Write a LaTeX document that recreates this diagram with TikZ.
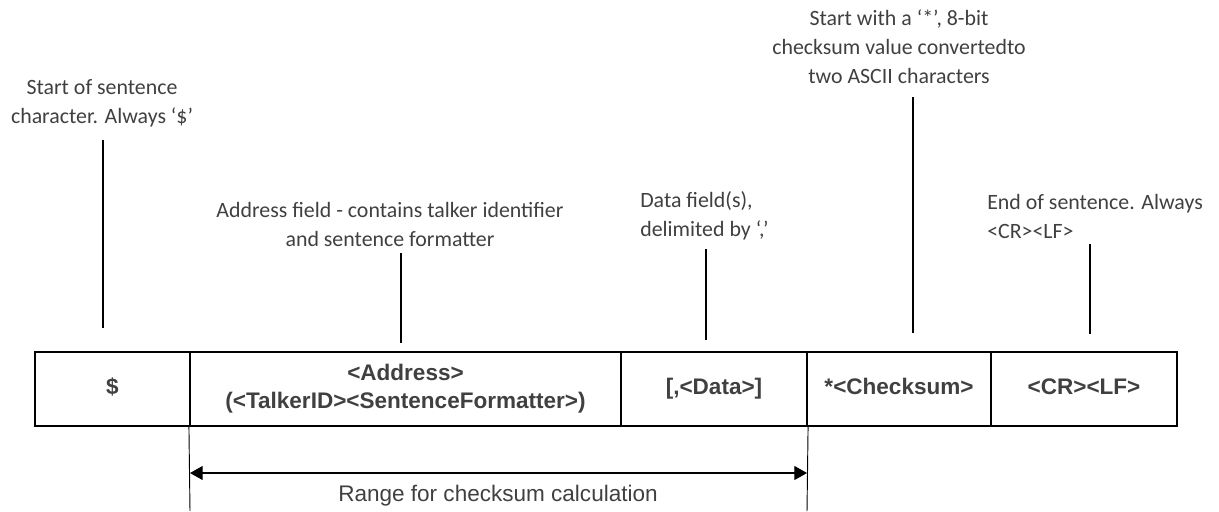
\documentclass[tikz,border=0pt]{standalone}
\usepackage{fontspec}
\setmainfont{Carlito}
\newfontfamily\notefont{Carlito}
\newfontfamily\boxfont{Liberation Sans}
\usetikzlibrary{arrows.meta}
\definecolor{txt}{HTML}{404040}
\tikzset{
  note/.style={inner sep=0pt, text=txt, font=\notefont\fontsize{16.4}{21.75}\selectfont},
  leader/.style={draw=black, line width=1.1pt},
  cell/.style={draw=black, line width=1.6pt, inner sep=0pt, minimum height=55.5pt, text=txt,
    align=center, text height=12pt, text depth=3.5pt, font=\boxfont\bfseries\fontsize{16.9}{21}\selectfont},
  guide/.style={draw=black, line width=0.7pt},
  rangearrow/.style={line width=0.8pt, {Triangle[length=9.5pt,width=10.5pt]}-{Triangle[length=9.5pt,width=10.5pt]}},
  rangelabel/.style={inner sep=0pt, text=txt, font=\boxfont\fontsize{16.9}{21}\selectfont}
}
\begin{document}
\begin{tikzpicture}[x=0.75pt,y=-0.75pt]
\useasboundingbox (0,0) rectangle (1219,511);
% cells
\node[cell, minimum width=116.25pt] (c1) at (112.5,389) {\$};
\node[cell, minimum width=323.25pt, text height={}, text depth={}] (c2) at (405.5,389) {<Address>\\(<TalkerID><SentenceFormatter>)};
\node[cell, minimum width=139.5pt] (c3) at (714,389) {[,<Data>]};
\node[cell, minimum width=138pt] (c4) at (899,389) {*<Checksum>};
\node[cell, minimum width=139.5pt] (c5) at (1084,389) {<CR><LF>};
% annotations
\node[note, align=center] (n1) at (102,103) {Start of sentence\\character. Always ‘\$’};
\node[note, align=center] (n2) at (390,224) {Address field - contains talker identifier\\and sentence formatter};
\node[note, align=left, anchor=west] (n3) at (640,216) {Data field(s),\\delimited by ‘,’};
\node[note, align=center] (n4) at (899,47) {Start with a ‘*’, 8-bit\\checksum value convertedto\\two ASCII characters};
\node[note, align=left, anchor=west] (n5) at (987,216) {End of sentence. Always\\<CR><LF>};
% leader lines
\coordinate (l1a) at (103,140); \coordinate (l1b) at (103,328);
\coordinate (l2a) at (401,253); \coordinate (l2b) at (401,343);
\coordinate (l3a) at (706,249); \coordinate (l3b) at (706,340);
\coordinate (l4a) at (913,97);  \coordinate (l4b) at (913,333);
\coordinate (l5a) at (1090,244); \coordinate (l5b) at (1090,334);
\draw[leader] (l1a) -- (l1b);
\draw[leader] (l2a) -- (l2b);
\draw[leader] (l3a) -- (l3b);
\draw[leader] (l4a) -- (l4b);
\draw[leader] (l5a) -- (l5b);
% range
\coordinate (g1) at (190,511);
\coordinate (g2) at (807,511);
\draw[guide] (c2.south west) -- (g1);
\draw[guide] (c3.south east) -- (g2);
\coordinate (r1) at (190,473);
\coordinate (r2) at (807,473);
\draw[rangearrow] (r1) -- (r2);
\node[rangelabel] (rl) at (498,496) {Range for checksum calculation};
\end{tikzpicture}
\end{document}
